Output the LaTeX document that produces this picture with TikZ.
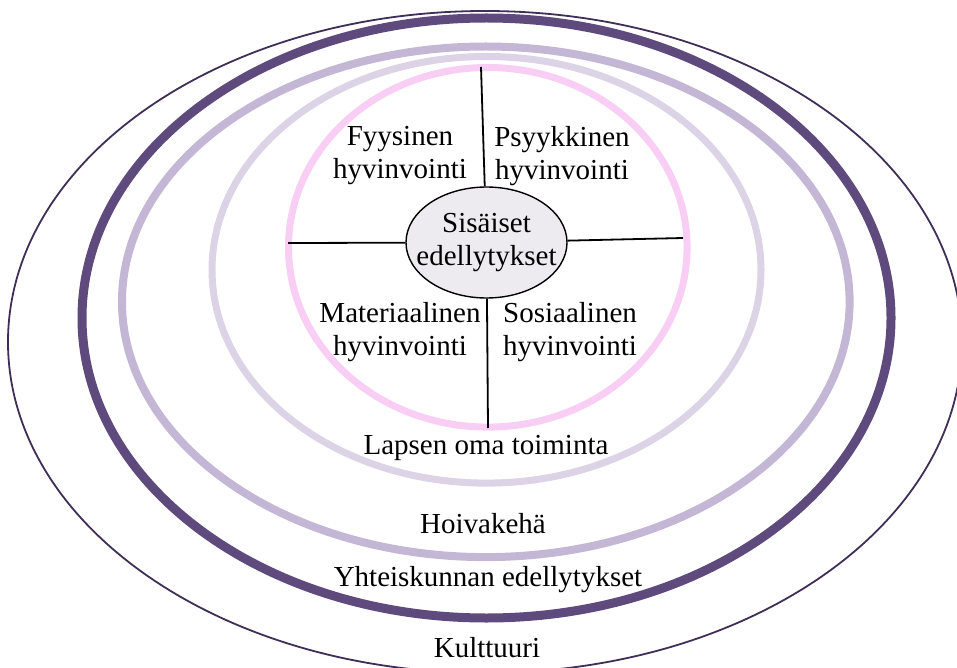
\documentclass[tikz,border=0pt]{standalone}
\usepackage{fontspec}
\setmainfont{Liberation Serif}
\usetikzlibrary{shapes.geometric}
\definecolor{kultt}{HTML}{3F2F57}
\definecolor{yhteis}{HTML}{5E4A7D}
\definecolor{hoiva}{HTML}{C4B7D5}
\definecolor{lapsi}{HTML}{DCD3E6}
\definecolor{sisa}{HTML}{F8CEF5}
\definecolor{ydin}{HTML}{EEEBF0}
\begin{document}
\begin{tikzpicture}[x=0.5pt,y=-0.5pt,font=\fontsize{14.5}{16.5}\selectfont,
        txt/.style={align=center,inner sep=0pt},
        core/.style={ellipse,draw,fill=ydin,line width=0.7pt,inner sep=0pt,minimum width=80.5pt,minimum height=55.5pt},
        spoke/.style={line width=0.9pt}]
                \useasboundingbox (0,0) rectangle (957,668);
                % rings, outer to inner
                \draw[kultt,line width=0.9pt] (485,342) ellipse [x radius=477,y radius=331];
                \draw[yhteis,line width=4.5pt] (486.5,318) ellipse [x radius=404.5,y radius=300];
                \draw[hoiva,line width=4pt] (485.8,301.8) ellipse [x radius=363.8,y radius=255.3];
                \draw[lapsi,line width=3.5pt] (486.5,269.8) ellipse [x radius=274.5,y radius=213.3];
                \draw[sisa,line width=3.5pt] (487.8,247.3) ellipse [x radius=199.3,y radius=179.8];
                \node[core] (sis) at (486.5,242.5) {};
                \node[txt] (sisteksti) at (sis) {Sisäiset\\edellytykset};
                \coordinate (ylos) at (481,67);
                \coordinate (alas) at (488,428);
                \coordinate (vasen) at (288,243);
                \coordinate (oikea) at (683,238);
                \foreach \p in {ylos,alas,vasen,oikea}
                \draw[spoke] (sis) -- (\p);
                \node[txt] (fyys) at (400,156) {Fyysinen\\hyvinvointi};
                \node[txt] (psyyk) at (562,156) {Psyykkinen\\hyvinvointi};
                \node[txt] (mater) at (400,332) {Materiaalinen\\hyvinvointi};
                \node[txt] (sosiaal) at (570,332) {Sosiaalinen\\hyvinvointi};
                \node[txt] (lapsen) at (486,448) {Lapsen oma toiminta};
                \node[txt] (hoivak) at (483,524) {Hoivakehä};
                \node[txt] (yhteisk) at (488,580) {Yhteiskunnan edellytykset};
                \node[txt] (kulttuuri) at (487,648) {Kulttuuri};
            \end{tikzpicture}
\end{document}
